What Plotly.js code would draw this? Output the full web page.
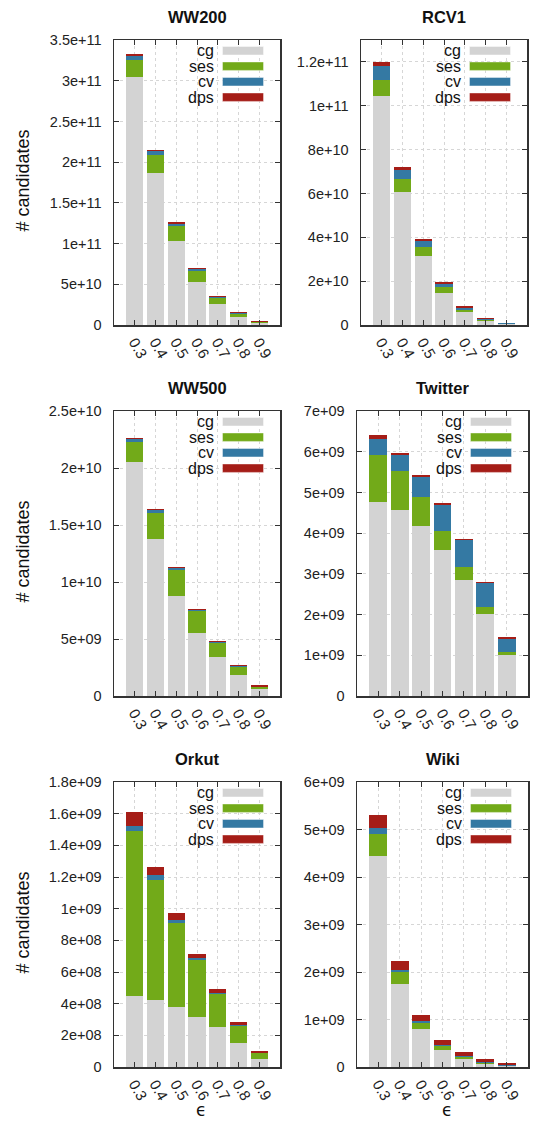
<!DOCTYPE html>
<html>
<head>
<meta charset="utf-8">
<script src="https://cdn.plot.ly/plotly-3.0.1.min.js"></script>
<style>html,body{margin:0;padding:0;background:#fff;}#chart{width:536px;height:1121px;}</style>
</head>
<body>
<div id="chart"></div>
<script>
// ---- data ----
const epsilons = ['0.3','0.4','0.5','0.6','0.7','0.8','0.9'];
const seriesNames = ['cg','ses','cv','dps'];
const panelTitles = ['WW200','RCV1','WW500','Twitter','Orkut','Wiki'];

const ww200_cg  = [3.04e11, 1.867e11, 1.032e11, 5.28e10, 2.58e10, 1.02e10, 2.9e9];
const ww200_ses = [2.14e10, 2.25e10, 1.84e10, 1.39e10, 7.8e9, 3.7e9, 8e8];
const ww200_cv  = [4.9e9, 4.5e9, 2.8e9, 1.7e9, 1.2e9, 8e8, 4e8];
const ww200_dps = [2.9e9, 1.2e9, 1.7e9, 1.2e9, 1.2e9, 1.3e9, 8e8];

const rcv1_cg  = [1.046e11, 6.08e10, 3.15e10, 1.48e10, 5.9e9, 1.8e9, 5e8];
const rcv1_ses = [7.3e9, 5.7e9, 4.1e9, 2.4e9, 1.1e9, 5e8, 1e8];
const rcv1_cv  = [6.4e9, 4.3e9, 2.6e9, 1.4e9, 8e8, 3e8, 2e8];
const rcv1_dps = [1.7e9, 1.1e9, 9e8, 1.0e9, 9e8, 6e8, 1e8];

const ww500_cg  = [2.053e10, 1.377e10, 8.77e9, 5.53e9, 3.42e9, 1.84e9, 5.8e8];
const ww500_ses = [1.78e9, 2.31e9, 2.31e9, 1.90e9, 1.20e9, 7.3e8, 1.8e8];
const ww500_cv  = [2.3e8, 2.4e8, 1.2e8, 8e7, 9e7, 6e7, 6e7];
const ww500_dps = [1.2e8, 1.1e8, 1.2e8, 1.2e8, 9e7, 9e7, 1.2e8];

const twitter_cg  = [4.77e9, 4.56e9, 4.18e9, 3.58e9, 2.85e9, 2.01e9, 1.00e9];
const twitter_ses = [1.15e9, 9.6e8, 7.1e8, 4.7e8, 3.1e8, 1.8e8, 7e7];
const twitter_cv  = [4.0e8, 3.9e8, 5.0e8, 6.3e8, 6.6e8, 5.8e8, 3.4e8];
const twitter_dps = [9e7, 6e7, 5e7, 6e7, 4e7, 4e7, 4e7];

const orkut_cg  = [4.46e8, 4.21e8, 3.77e8, 3.18e8, 2.51e8, 1.54e8, 5.1e7];
const orkut_ses = [1.042e9, 7.62e8, 5.35e8, 3.56e8, 2.10e8, 1.05e8, 3.5e7];
const orkut_cv  = [3.2e7, 2.7e7, 1.9e7, 1.4e7, 8e6, 6e6, 2e6];
const orkut_dps = [8.8e7, 5.5e7, 4.0e7, 2.8e7, 2.2e7, 1.7e7, 1.1e7];

const wiki_cg  = [4.45e9, 1.74e9, 7.9e8, 3.65e8, 1.7e8, 7e7, 1.4e7];
const wiki_ses = [4.6e8, 2.5e8, 1.4e8, 7.5e7, 4e7, 2e7, 1.4e7];
const wiki_cv  = [1.3e8, 6e7, 4.5e7, 3e7, 3e7, 1.5e7, 7e6];
const wiki_dps = [2.7e8, 1.8e8, 1.2e8, 1.0e8, 8e7, 6.5e7, 4.2e7];

const panelSeries = [
  [ww200_cg, ww200_ses, ww200_cv, ww200_dps],
  [rcv1_cg, rcv1_ses, rcv1_cv, rcv1_dps],
  [ww500_cg, ww500_ses, ww500_cv, ww500_dps],
  [twitter_cg, twitter_ses, twitter_cv, twitter_dps],
  [orkut_cg, orkut_ses, orkut_cv, orkut_dps],
  [wiki_cg, wiki_ses, wiki_cv, wiki_dps]
];

// y-axis limits and tick steps
const yMax  = [3.5e11, 1.3e11, 2.5e10, 7e9, 1.8e9, 6e9];
const yStep = [5e10, 2e10, 5e9, 1e9, 2e8, 1e9];
const yAxisLabel = '# candidates';
const xAxisLabel = '\u03F5';

// ---- styling ----
const colors = ['#d3d3d3', '#72aa19', '#3479a3', '#a51d17'];
const W = 536, H = 1121;
// plot areas in pixels [left, right, top, bottom]
const boxes = [
  [114, 280, 40, 325], [361, 527, 40, 325],
  [114, 280, 411, 696], [357, 528, 411, 696],
  [114, 280, 782, 1067], [357, 528, 782, 1067]
];
const FONT = 'Liberation Sans, Arial, sans-serif';

function fmt(v) {
  if (v === 0) return '0';
  let s = v.toExponential();
  let [m, e] = s.split('e');
  let sign = e[0];
  let d = e.slice(1);
  if (d.length < 2) d = '0' + d;
  return m + 'e' + sign + d;
}

const data = [];
const layout = {
  width: W, height: H,
  margin: {l: 0, r: 0, t: 0, b: 0},
  paper_bgcolor: '#fff', plot_bgcolor: '#fff',
  barmode: 'stack', bargap: 0.16,
  showlegend: false,
  font: {family: FONT, size: 14.5, color: '#222'},
  annotations: [], shapes: []
};

boxes.forEach((b, i) => {
  const sfx = i === 0 ? '' : String(i + 1);
  const xa = 'x' + sfx, ya = 'y' + sfx;
  panelSeries[i].forEach((vals, k) => {
    data.push({
      type: 'bar', x: epsilons, y: vals, name: seriesNames[k],
      xaxis: xa, yaxis: ya,
      marker: {color: colors[k], line: {width: 0}},
      hoverinfo: 'y+name'
    });
  });
  const tv = [];
  for (let v = 0; v <= yMax[i] + 1e-6 * yMax[i]; v += yStep[i]) tv.push(v);
  const xd = [b[0] / W, b[1] / W];
  const yd = [1 - b[3] / H, 1 - b[2] / H];
  layout['xaxis' + sfx] = {
    domain: xd, anchor: ya, type: 'category', range: [-1, 7],
    showline: true, linecolor: '#333', linewidth: 1.5, mirror: 'ticks',
    ticks: 'inside', ticklen: 5, tickcolor: '#333',
    showgrid: true, gridcolor: '#d6d6d6', griddash: 'dot', gridwidth: 1,
    tickangle: 60, tickfont: {family: FONT, size: 15, color: '#222'},
    ticklabelstandoff: 1, zeroline: false, fixedrange: true
  };
  layout['yaxis' + sfx] = {
    domain: yd, anchor: xa, range: [0, yMax[i]],
    tickvals: tv, ticktext: tv.map(fmt),
    showline: true, linecolor: '#333', linewidth: 1.5, mirror: 'ticks',
    ticks: 'inside', ticklen: 5, tickcolor: '#333',
    showgrid: true, gridcolor: '#d6d6d6', griddash: 'dot', gridwidth: 1,
    tickfont: {family: FONT, size: 14.5, color: '#222'},
    ticklabelstandoff: 8, zeroline: false, fixedrange: true
  };
  // panel title
  layout.annotations.push({
    text: '<b>' + panelTitles[i] + '</b>', xref: 'paper', yref: 'paper',
    x: (b[0] + b[1]) / 2 / W, y: 1 - (b[2] - 23) / H,
    xanchor: 'center', yanchor: 'middle', showarrow: false,
    font: {family: FONT, size: 16.5, color: '#111'}
  });
  // y-axis title for left column
  if (i % 2 === 0) {
    layout.annotations.push({
      text: yAxisLabel, xref: 'paper', yref: 'paper',
      x: 22 / W, y: 1 - ((b[2] + b[3]) / 2 - 2) / H, textangle: -90,
      xanchor: 'center', yanchor: 'middle', showarrow: false,
      font: {family: FONT, size: 18, color: '#111'}
    });
  }
  // x-axis title for bottom row
  if (i >= 4) {
    layout.annotations.push({
      text: xAxisLabel, xref: 'paper', yref: 'paper',
      x: ((b[0] + b[1]) / 2 + 4) / W, y: 0,
      xanchor: 'center', yanchor: 'bottom', showarrow: false, borderpad: 0,
      font: {family: 'DejaVu Sans, sans-serif', size: 17, color: '#111'}
    });
  }
  // legend (label right-aligned, swatch to the right)
  seriesNames.forEach((nm, k) => {
    const cy = b[2] + 10.7 + k * 15.5;
    layout.annotations.push({
      text: nm, xref: 'paper', yref: 'paper',
      x: (b[1] - 64) / W, y: 1 - cy / H,
      xanchor: 'right', yanchor: 'middle', showarrow: false,
      font: {family: FONT, size: 16, color: '#111'}
    });
    layout.shapes.push({
      type: 'rect', xref: 'paper', yref: 'paper',
      x0: (b[1] - 57.5) / W, x1: (b[1] - 16.5) / W,
      y0: 1 - (cy - 4.2) / H, y1: 1 - (cy + 4.2) / H,
      fillcolor: colors[k], line: {width: 0.8, color: 'rgba(255,255,255,0.5)'}
    });
  });
});

Plotly.newPlot('chart', data, layout, {displayModeBar: false, staticPlot: true});
</script>
</body>
</html>
